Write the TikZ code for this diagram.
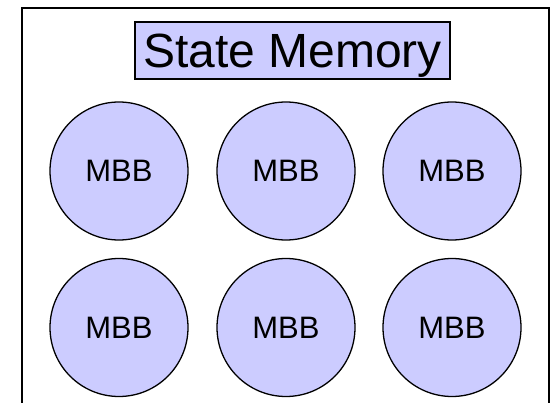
\documentclass[tikz,border=0pt]{standalone}
\usepackage{fontspec}
\setmainfont{Liberation Sans}
\definecolor{lav}{RGB}{204,204,255}
\begin{document}
\begin{tikzpicture}[x=1pt,y=-1pt,
  mbb/.style={circle,draw=black,line width=1.3pt,fill=lav,minimum size=138pt,inner sep=0pt,
    text depth=0pt,font=\fontsize{31}{31}\selectfont},
  titlebox/.style={rectangle,draw=black,line width=1.2pt,fill=lav,minimum width=315pt,
    minimum height=57pt,inner sep=0pt,text depth=0pt,font=\fontsize{48}{48}\selectfont}]
\useasboundingbox (0,0) rectangle (554,403);
\fill[white] (0,0) rectangle (554,403);
\coordinate (bl) at (22,403);
\coordinate (tl) at (22,8);
\coordinate (tr) at (549,8);
\coordinate (br) at (549,403);
\draw[line width=2pt] (bl) -- (tl) -- (tr) -- (br);
\node[titlebox] (title) at (292.5,50.5) {State Memory};
\node[mbb] (m1) at (119,171) {MBB};
\node[mbb] (m2) at (286,171) {MBB};
\node[mbb] (m3) at (452,171) {MBB};
\node[mbb] (m4) at (119,327.5) {MBB};
\node[mbb] (m5) at (286,327.5) {MBB};
\node[mbb] (m6) at (452,327.5) {MBB};
\end{tikzpicture}
\end{document}
